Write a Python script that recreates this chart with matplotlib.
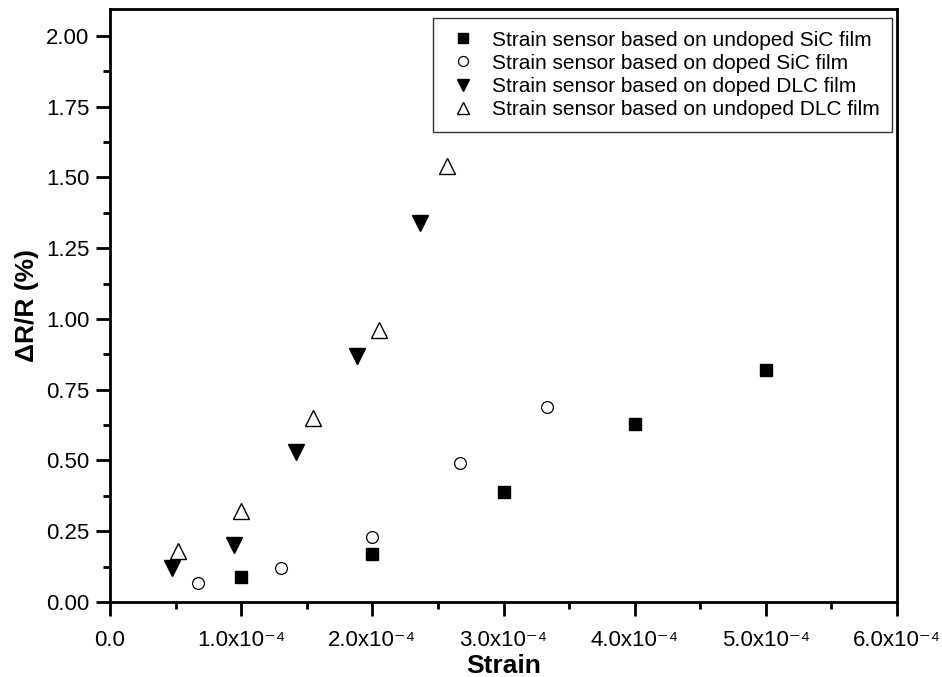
import matplotlib
matplotlib.use("Agg")
import matplotlib.pyplot as plt
from matplotlib.ticker import MultipleLocator, FuncFormatter

plt.rcParams['font.family'] = ['Liberation Sans', 'DejaVu Sans']

# Data
sic_undoped_x = [1.0e-4, 2.0e-4, 3.0e-4, 4.0e-4, 5.0e-4]
sic_undoped_y = [0.09, 0.17, 0.39, 0.63, 0.82]

sic_doped_x = [0.667e-4, 1.3e-4, 2.0e-4, 2.667e-4, 3.333e-4]
sic_doped_y = [0.067, 0.12, 0.23, 0.49, 0.69]

dlc_doped_x = [0.47e-4, 0.945e-4, 1.42e-4, 1.88e-4, 2.36e-4]
dlc_doped_y = [0.12, 0.20, 0.53, 0.87, 1.34]

dlc_undoped_x = [0.52e-4, 1.0e-4, 1.55e-4, 2.05e-4, 2.57e-4]
dlc_undoped_y = [0.18, 0.32, 0.65, 0.96, 1.54]

labels = ["Strain sensor based on undoped SiC film",
          "Strain sensor based on doped SiC film",
          "Strain sensor based on doped DLC film",
          "Strain sensor based on undoped DLC film"]

fig = plt.figure(figsize=(9.42, 6.77), dpi=100)
ax = fig.add_axes([0.1168, 0.1108, 0.8355, 0.8759])

ax.plot(sic_undoped_x, sic_undoped_y, 's', color='black', ms=8.5, ls='none', label=labels[0])
ax.plot(sic_doped_x, sic_doped_y, 'o', mfc='white', mec='black', mew=0.9, ms=8.5, ls='none', label=labels[1])
ax.plot(dlc_doped_x, dlc_doped_y, 'v', color='black', ms=11, ls='none', label=labels[2])
ax.plot(dlc_undoped_x, dlc_undoped_y, '^', mfc='white', mec='black', mew=1.0, ms=11, ls='none', label=labels[3])

ax.set_xlim(0, 6.0e-4)
ax.set_ylim(0, 2.095)

ax.xaxis.set_major_locator(MultipleLocator(1e-4))
ax.xaxis.set_minor_locator(MultipleLocator(0.5e-4))
ax.yaxis.set_major_locator(MultipleLocator(0.25))
ax.yaxis.set_minor_locator(MultipleLocator(0.125))

def xfmt(v, pos):
    if abs(v) < 1e-12:
        return "0.0"
    return "%.1fx10\u207b\u2074" % (v / 1e-4)

ax.xaxis.set_major_formatter(FuncFormatter(xfmt))
ax.yaxis.set_major_formatter(FuncFormatter(lambda v, p: "%.2f" % v))

for s in ax.spines.values():
    s.set_linewidth(2)
ax.tick_params(which='major', direction='out', length=10, width=2, labelsize=16, pad=5)
ax.tick_params(which='minor', direction='out', length=5, width=2)
ax.tick_params(axis='x', pad=10)

ax.set_xlabel("Strain", fontsize=19, fontweight='bold', labelpad=2)
ax.set_ylabel("ΔR/R (%)", fontsize=19, fontweight='bold', labelpad=5)

leg = ax.legend(loc='upper right', bbox_to_anchor=(0.9937, 0.9848), fontsize=15,
                frameon=True, fancybox=False, edgecolor='black', markerscale=0.85,
                handlelength=1.63, handletextpad=0.58, borderpad=0.6, labelspacing=0.2,
                borderaxespad=0)
leg.get_frame().set_linewidth(1.0)

fig.savefig("out.png", dpi=100)
